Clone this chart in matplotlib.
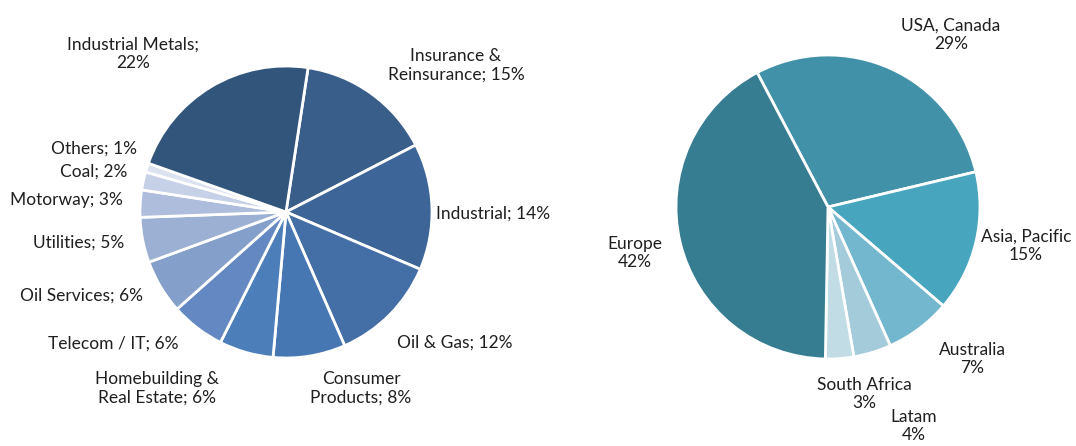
import matplotlib
matplotlib.use("Agg")
import matplotlib.pyplot as plt

# ---- data ----
sector_labels = ["Insurance &\nReinsurance; 15%", "Industrial; 14%", "Oil & Gas; 12%",
                 "Consumer\nProducts; 8%", "Homebuilding &\nReal Estate; 6%", "Telecom / IT; 6%",
                 "Oil Services; 6%", "Utilities; 5%", "Motorway; 3%", "Coal; 2%",
                 "Others; 1%", "Industrial Metals;\n22%"]
sector_values = [15, 14, 12, 8, 6, 6, 6, 5, 3, 2, 1, 22]

region_labels = ["USA, Canada\n29%", "Asia, Pacific\n15%", "Australia\n7%", "Latam\n4%",
                 "South Africa\n3%", "Europe\n42%"]
region_values = [29, 15, 7, 4, 3, 42]

# ---- style ----
sector_colors = ["#3A5E8A", "#3D6598", "#436EA6", "#4677B2", "#4C7EBA", "#6489C2",
                 "#839FCA", "#9BB0D3", "#AEBDDB", "#C6D0E6", "#DCE2EF", "#32557C"]
region_colors = ["#4192A9", "#48A5BE", "#72B7CD", "#A3CBDA", "#C2DCE5", "#367D91"]

W, H = 1076, 446
# label centres in pixel coordinates (x, y from top)
sector_label_pos = [(456, 65), (493, 214), (455, 343), (361, 388), (157, 388), (113, 344),
                    (81, 296), (79, 243), (66, 200), (94, 172), (94, 149), (133, 54)]
region_label_pos = [(951, 35), (1026, 246), (972, 359), (914, 426), (864, 394), (635, 253)]

plt.rcParams['font.family'] = ['Lato', 'DejaVu Sans']

fig = plt.figure(figsize=(W / 100, H / 100), dpi=100)
ax = fig.add_axes([0, 0, 1, 1])

wp = dict(edgecolor='white', linewidth=2.0)
ax.pie(sector_values, colors=sector_colors, startangle=81.3, counterclock=False,
       center=(286, H - 212), radius=146, wedgeprops=wp, frame=True)
ax.pie(region_values, colors=region_colors, startangle=117.8, counterclock=False,
       center=(828, H - 207), radius=152, wedgeprops=wp, frame=True)

for lab, (x, y) in zip(sector_labels, sector_label_pos):
    ax.text(x, H - y, lab, ha='center', va='center', multialignment='center',
            fontsize=12.5, color='#1f1f1f', linespacing=1.2)
for lab, (x, y) in zip(region_labels, region_label_pos):
    ax.text(x, H - y, lab, ha='center', va='center', multialignment='center',
            fontsize=12.5, color='#1f1f1f', linespacing=1.2)

ax.set_xlim(0, W)
ax.set_ylim(0, H)
ax.set_aspect('equal')
ax.axis('off')

fig.savefig("out.png", dpi=100, facecolor='white')
